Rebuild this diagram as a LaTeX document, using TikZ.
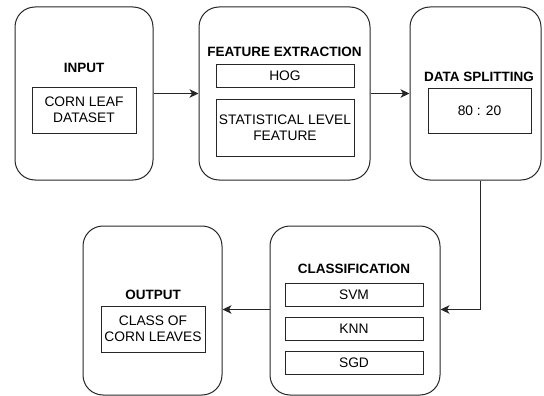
\documentclass[tikz,border=0pt]{standalone}
\usepackage{fontspec}
\setmainfont{Liberation Sans}
\usetikzlibrary{arrows.meta}
\begin{document}
\begin{tikzpicture}[x=1pt,y=-1pt,
  stage/.style={draw=black!85, line width=1pt, rounded corners=20pt,
    inner sep=0pt, minimum width=#1},
  item/.style={draw=black!85, line width=0.9pt, inner sep=0pt,
    align=center, font=\fontsize{13.8}{16}\selectfont, text=black},
  title/.style={font=\bfseries\fontsize{13.5}{16}\selectfont, text=black, inner sep=0pt},
  arr/.style={draw=black!85, line width=1pt, -{Stealth[length=9pt,width=8.5pt,inset=2.5pt]}}
]
\useasboundingbox (0,0) rectangle (544,396);

% stage frames
\node[stage=138pt, minimum height=173pt] (b1) at (84,93.5) {};
\node[stage=171pt, minimum height=173pt] (b2) at (284.5,93.5) {};
\node[stage=131pt, minimum height=173pt] (b3) at (475.5,93.5) {};
\node[stage=170pt, minimum height=169pt] (b4) at (355,310.5) {};
\node[stage=139pt, minimum height=169pt] (b5) at (152.5,310.5) {};

% titles
\node[title] (t1) at (84,68) {INPUT};
\node[title] (t2) at (284.5,52) {FEATURE EXTRACTION};
\node[title] (t3) at (479,77) {DATA SPLITTING};
\node[title] (t4) at (354,269) {CLASSIFICATION};
\node[title] (t5) at (153,295) {OUTPUT};

% inner items
\node[item, minimum width=104pt, minimum height=46pt] (i1) at (84,110) {CORN LEAF\\DATASET};
\node[item, minimum width=138pt, minimum height=23pt] (hog) at (285,75.5) {HOG};
\node[item, minimum width=138pt, minimum height=57pt] (stat) at (285,127.5) {STATISTICAL LEVEL\\FEATURE};
\node[item, minimum width=103pt, minimum height=45pt] (split) at (479.5,110.5) {80 : 20};
\node[item, minimum width=138pt, minimum height=23pt] (svm) at (354,294.5) {SVM};
\node[item, minimum width=138pt, minimum height=23pt] (knn) at (354,328.5) {KNN};
\node[item, minimum width=138pt, minimum height=23pt] (sgd) at (354,363) {SGD};
\node[item, minimum width=104pt, minimum height=46pt] (cls) at (153,329) {CLASS OF\\CORN LEAVES};

% connectors
\draw[arr] (b1.east) -- (b2.west);
\draw[arr] (b2.east) -- (b3.west);
\coordinate (drop) at ([xshift=4.5pt]b3.south);
\draw[arr] (drop) |- ([yshift=1pt]b4.east);
\draw[arr] ([yshift=1pt]b4.west) -- ([yshift=1pt]b5.east);
\end{tikzpicture}
\end{document}
